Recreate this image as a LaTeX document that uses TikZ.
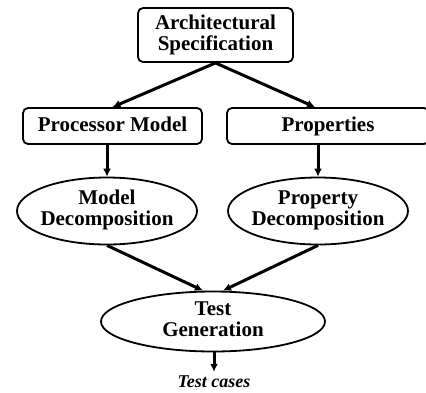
\documentclass[tikz,border=0pt]{standalone}
\usepackage{fontspec}
\setmainfont{Liberation Serif}
\usetikzlibrary{shapes.geometric,arrows.meta}

% two centred lines that do not widen the ellipse around them
\newcommand{\ellipsetext}[2]{\makebox[0pt]{\begin{tabular}{@{}c@{}}#1\\#2\end{tabular}}}

\tikzset{
  label font/.style={font=\fontsize{21}{21}\selectfont\bfseries},
  stagebox/.style={draw, line width=1.8pt, rounded corners=5pt, inner sep=0pt,
    align=center, label font},
  onelinebox/.style={stagebox, text height=14pt, text depth=4pt},
  stageoval/.style={draw, ellipse, line width=1.8pt, inner sep=0pt, label font},
  flow/.style={line width=3pt, -{Latex[length=8pt,width=8pt]}},
}

\begin{document}
\begin{tikzpicture}[x=1pt, y=-1pt]
  \useasboundingbox (0,0) rectangle (426,392);

  % specification and its two derived artefacts
  \node[stagebox, minimum width=155pt, minimum height=54pt] (spec) at (215.5,35)
    {Architectural\\Specification};
  \node[onelinebox, minimum width=179pt, minimum height=36pt] (proc) at (112.5,126)
    {Processor Model};
  \node[onelinebox, minimum width=202pt, minimum height=36pt] (props) at (328,126)
    {Properties};

  % decomposition steps
  \node[stageoval, minimum width=180pt, minimum height=67pt] (mdec) at (107,211)
    {\ellipsetext{Model}{Decomposition}};
  \node[stageoval, minimum width=180pt, minimum height=67pt] (pdec) at (318,211)
    {\ellipsetext{Property}{Decomposition}};

  % generation and its output
  \node[stageoval, minimum width=224pt, minimum height=60pt] (tgen) at (213,321.5)
    {\ellipsetext{Test}{Generation}};
  \node[font=\fontsize{18}{18}\selectfont\bfseries\itshape, inner sep=4pt] (cases)
    at (214,382) {Test cases};

  % connectors
  \draw[flow] (spec.south) -- (proc.north);
  \draw[flow] (spec.south) -- ([xshift=-13pt]props.north);
  \draw[flow] (mdec.north |- proc.south) -- (mdec.north);
  \draw[flow] (pdec.north |- props.south) -- (pdec.north);
  \draw[flow] (mdec.south) -- ([xshift=-10pt]tgen.north);
  \draw[flow] (pdec.south) -- ([xshift=10pt]tgen.north);
  \draw[flow] (cases.north |- tgen.south) -- (cases.north);
\end{tikzpicture}
\end{document}
